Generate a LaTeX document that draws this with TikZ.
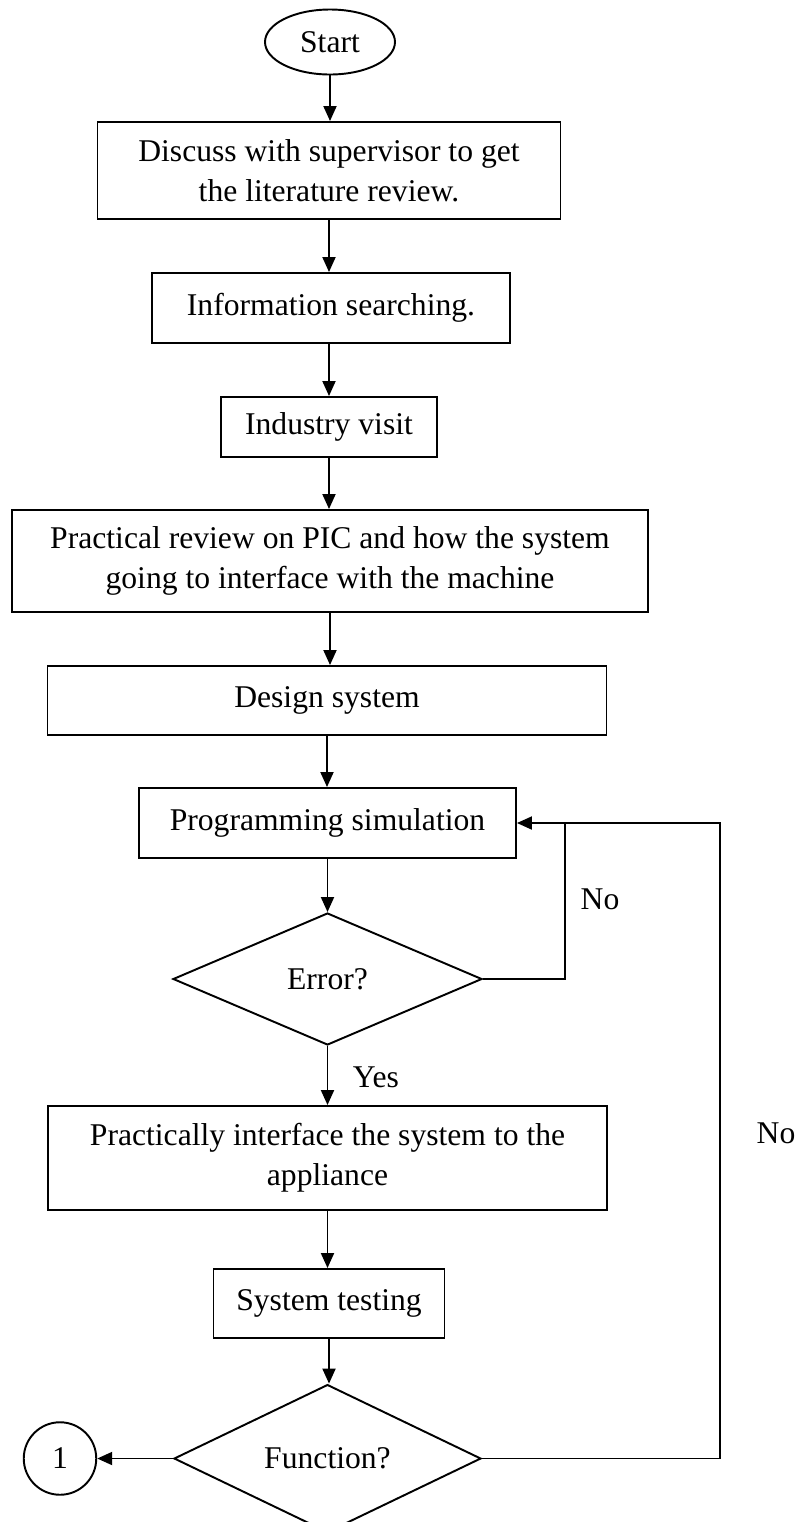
\documentclass[tikz,border=0pt]{standalone}
\usepackage{fontspec}
\setmainfont{Liberation Serif}
\usetikzlibrary{positioning,arrows.meta,shapes}

\begin{document}
\begin{tikzpicture}[
  every node/.style={font=\fontsize{18}{23}\selectfont},
  proc/.style={rectangle, draw, line width=1.1pt, align=center, inner sep=0pt},
  dec/.style={diamond, draw, line width=1.1pt, inner sep=0pt},
  term/.style={ellipse, draw, line width=1.1pt, inner sep=0pt},
  line/.style={line width=1.1pt},
  arr/.style={line width=1.1pt, -{Triangle[length=3mm,width=2.6mm]}}
]
\useasboundingbox (0,0) rectangle (16.08,-30.44);

% Inicio
\node[term, minimum width=2.6cm, minimum height=1.3cm] (start) at (6.6,-0.84) {Start};

% Pasos
\node[proc, minimum width=9.26cm, minimum height=1.94cm] (disc) at (6.58,-3.41) {Discuss with supervisor to get\\the literature review.};
\node[proc, minimum width=7.16cm, minimum height=1.4cm] (info) at (6.62,-6.16) {Information searching.};
\node[proc, minimum width=4.32cm, minimum height=1.2cm] (visit) at (6.58,-8.54) {Industry visit};
\node[proc, minimum width=12.72cm, minimum height=2.04cm] (pic) at (6.6,-11.22) {Practical review on PIC and how the system\\going to interface with the machine};
\node[proc, minimum width=11.18cm, minimum height=1.38cm] (design) at (6.54,-14.01) {Design system};
\node[proc, minimum width=7.54cm, minimum height=1.4cm] (prog) at (6.55,-16.46) {Programming simulation};
\node[dec, minimum width=6.18cm, minimum height=2.64cm] (err) at (6.55,-19.58) {Error?};
\node[proc, minimum width=11.18cm, minimum height=2.08cm] (iface) at (6.55,-23.16) {Practically interface the system to the\\appliance};
\node[proc, minimum width=4.62cm, minimum height=1.38cm] (test) at (6.58,-26.07) {System testing};
\node[dec, minimum width=6.14cm, minimum height=2.66cm] (func) at (6.55,-29.17) {Function?};
\node[circle, draw, line width=1.1pt, minimum size=1.45cm, inner sep=0pt] (one) at (1.2,-29.17) {1};

% Flechas
\draw[arr] (start) -- (start |- disc.north);
\draw[arr] (disc) -- (disc |- info.north);
\draw[arr] (info.south -| visit) -- (visit);
\draw[arr] (visit) -- (visit |- pic.north);
\draw[arr] (pic) -- (pic |- design.north);
\draw[arr] (design) -- (design |- prog.north);
\draw[arr] (prog) -- (err);
\draw[arr] (err) -- (err |- iface.north);
\draw[arr] (iface) -- (iface |- test.north);
\draw[arr] (test) -- (test |- func.north);
\draw[arr] (func) -- (one);

% Lazos
\coordinate (r1) at (11.3,-16.46);
\coordinate (r2) at (14.4,-16.46);
\draw[arr] (err.east) -| (r1) -- (prog.east);
\draw[line] (func.east) -| (r2) -- (r1);

% Etiquetas
\node (no1) at (12.0,-17.98) {No};
\node (yes) at (7.52,-21.54) {Yes};
\node (no2) at (15.52,-22.66) {No};
\end{tikzpicture}
\end{document}
